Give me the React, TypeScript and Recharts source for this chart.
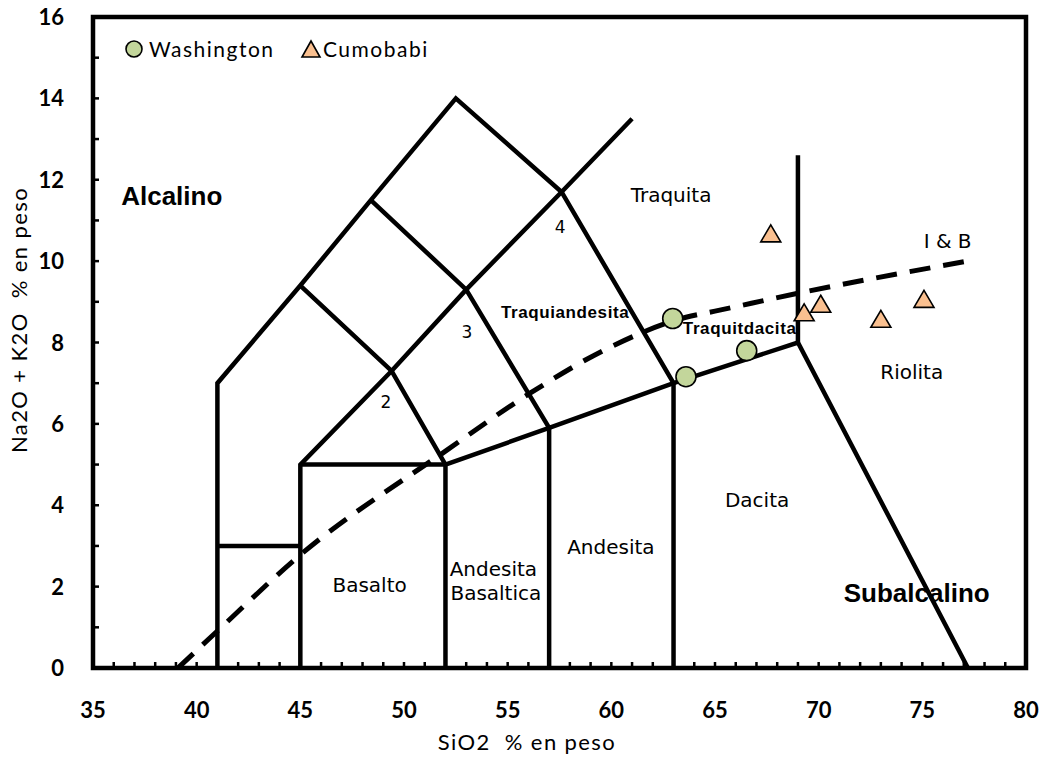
import React from "react";
import { ComposedChart, Line, Scatter, XAxis, YAxis, ReferenceArea } from "recharts";

// TAS field boundaries (SiO2, Na2O+K2O)
const outline = [[41, 0], [41, 7], [45, 9.4], [48.4, 11.5], [52.5, 14], [57.6, 11.7], [63, 7], [63, 0]];
const picroTop = [[41, 3], [45, 3]];
const ridgeLine = [[45, 0], [45, 5], [49.4, 7.3], [53, 9.3], [57.6, 11.7], [61, 13.5]];
const basaltTop = [[45, 5], [52, 5]];
const subalkLine = [[52, 0], [52, 5], [57, 5.9], [63, 7], [69, 8], [77.2, 0]];
const line57 = [[57, 0], [57, 5.9], [53, 9.3], [48.4, 11.5]];
const line52 = [[52, 5], [49.4, 7.3], [45, 9.4]];
const line69 = [[69, 8], [69, 12.6]];
const boundaries = [outline, picroTop, ridgeLine, basaltTop, subalkLine, line57, line52, line69];

// Irvine & Baragar alkaline / subalkaline divide
const ibCurve = [[39.1, 0], [41, 0.91], [45, 2.78], [52, 5.33], [56.1, 6.76], [60, 7.9], [63.6, 8.62], [65, 8.77], [69, 9.21], [77.4, 10.02]];

const washington = [[62.96, 8.59], [63.6, 7.16], [66.53, 7.8]];
const cumobabi = [[67.69, 10.67], [69.3, 8.73], [70.1, 8.94], [73.0, 8.57], [75.08, 9.06]];

const labels = [
  { text: "Alcalino", x: 38.8, y: 11.6, kind: "big" },
  { text: "Subalcalino", x: 74.73, y: 1.85, kind: "big" },
  { text: "Traquiandesita", x: 57.77, y: 8.74, kind: "bold" },
  { text: "Traquitdacita", x: 66.19, y: 8.35, kind: "bold" },
  { text: "Traquita", x: 62.88, y: 11.62, kind: "plain" },
  { text: "Riolita", x: 74.49, y: 7.27, kind: "plain" },
  { text: "I & B", x: 76.22, y: 10.49, kind: "plain" },
  { text: "Dacita", x: 67.03, y: 4.13, kind: "plain" },
  { text: "Andesita", x: 59.98, y: 2.97, kind: "plain" },
  { text: "Andesita", x: 54.31, y: 2.43, kind: "plain" },
  { text: "Basaltica", x: 54.43, y: 1.85, kind: "plain" },
  { text: "Basalto", x: 48.34, y: 2.03, kind: "plain" },
  { text: "2", x: 49.13, y: 6.54, kind: "num" },
  { text: "3", x: 53.04, y: 8.26, kind: "num" },
  { text: "4", x: 57.53, y: 10.84, kind: "num" },
];

const xTicks = Array.from({ length: 46 }, (_, i) => 35 + i);
const yTicks = Array.from({ length: 17 }, (_, i) => i);

const toPts = (arr: number[][]) => arr.map(([x, y]) => ({ x, y }));

const GREEN = "#C3D69B";
const PEACH = "#FAC090";
const TICK_FONT = "Lato, 'Open Sans', sans-serif";
const ARIAL = "'Liberation Sans', Arial, sans-serif";
const DEJAVU = "'DejaVu Sans', sans-serif";

const labelStyles: Record<string, React.CSSProperties> = {
  big: { fontFamily: ARIAL, fontSize: 26, fontWeight: 700 },
  bold: { fontFamily: ARIAL, fontSize: 17, fontWeight: 700, letterSpacing: 0.6 },
  plain: { fontFamily: DEJAVU, fontSize: 20, fontWeight: 400 },
  num: { fontFamily: DEJAVU, fontSize: 17, fontWeight: 400 },
};

const XTick = ({ x, y, payload }: any) =>
  payload.value % 5 === 0 ? (
    <text x={x} y={y + 50} textAnchor="middle" fontFamily={TICK_FONT} fontWeight={700} fontSize={22} fill="#000">
      {payload.value}
    </text>
  ) : (
    <g />
  );

const YTick = ({ x, y, payload }: any) =>
  payload.value % 2 === 0 ? (
    <text x={x - 29} y={y + 8} textAnchor="end" fontFamily={TICK_FONT} fontWeight={700} fontSize={22} fill="#000">
      {payload.value}
    </text>
  ) : (
    <g />
  );

const Circle = ({ cx, cy }: any) => <circle cx={cx} cy={cy} r={10} fill={GREEN} stroke="#000" strokeWidth={1.6} />;
const Tri = ({ cx, cy }: any) => (
  <polygon points={`${cx},${cy - 9} ${cx + 10},${cy + 8} ${cx - 10},${cy + 8}`} fill={PEACH} stroke="#000" strokeWidth={1.6} />
);
const TextMark = ({ cx, cy, payload }: any) => (
  <text x={cx} y={cy} textAnchor="middle" dominantBaseline="central" fill="#000" style={labelStyles[payload.kind]}>
    {payload.text}
  </text>
);

const titleStyle: React.CSSProperties = { whiteSpace: "pre", letterSpacing: 1.4 };

export default function App() {
  return (
    <div style={{ position: "absolute", left: 0, top: 0, width: 1048, height: 759, background: "#fff" }}>
      <ComposedChart width={1048} height={759} margin={{ top: 17, right: 22, bottom: 31, left: 0 }}>
        <XAxis
          dataKey="x"
          type="number"
          domain={[35, 80]}
          ticks={xTicks}
          interval={0}
          height={60}
          axisLine={false}
          tickSize={-6}
          tickMargin={6}
          tickLine={{ stroke: "#000", strokeWidth: 2.5 }}
          tick={<XTick />}
          label={() => (
            <text x={527} y={750} textAnchor="middle" fontFamily={TICK_FONT} fontSize={22} fill="#000" style={titleStyle}>
              {"SiO2  % en peso"}
            </text>
          )}
        />
        <YAxis
          dataKey="y"
          type="number"
          domain={[0, 16]}
          ticks={yTicks}
          interval={0}
          width={93}
          axisLine={false}
          tickSize={-6}
          tickMargin={6}
          tickLine={{ stroke: "#000", strokeWidth: 2.5 }}
          tick={<YTick />}
          label={() => (
            <text
              x={27}
              y={320}
              transform="rotate(-90 27 320)"
              textAnchor="middle"
              fontFamily={TICK_FONT}
              fontSize={22}
              fill="#000"
              style={titleStyle}
            >
              {"Na2O + K2O  % en peso"}
            </text>
          )}
        />
        <ReferenceArea x1={35} x2={80} y1={0} y2={16} fill="none" stroke="#000" strokeWidth={4.5} />
        {boundaries.map((seg, i) => (
          <Line
            key={i}
            data={toPts(seg)}
            dataKey="y"
            type="linear"
            stroke="#000"
            strokeWidth={4.5}
            dot={false}
            activeDot={false}
            legendType="none"
            isAnimationActive={false}
          />
        ))}
        <Line
          data={toPts(ibCurve)}
          dataKey="y"
          type="monotone"
          stroke="#000"
          strokeWidth={5}
          strokeDasharray="21 13"
          dot={false}
          activeDot={false}
          legendType="none"
          isAnimationActive={false}
        />
        <Scatter data={labels} shape={<TextMark />} isAnimationActive={false} />
        <Scatter data={toPts(washington)} shape={<Circle />} isAnimationActive={false} />
        <Scatter data={toPts(cumobabi)} shape={<Tri />} isAnimationActive={false} />
      </ComposedChart>
      <svg style={{ position: "absolute", left: 0, top: 0 }} width={480} height={80}>
        <circle cx={134} cy={49} r={8} fill={GREEN} stroke="#000" strokeWidth={1.6} />
        <text x={149} y={57} fontFamily={TICK_FONT} fontSize={21} fill="#000" style={{ letterSpacing: 1.5 }}>Washington</text>
        <polygon points="311,41 320,57 302,57" fill={PEACH} stroke="#000" strokeWidth={1.6} />
        <text x={323} y={57} fontFamily={TICK_FONT} fontSize={21} fill="#000" style={{ letterSpacing: 1.5 }}>Cumobabi</text>
      </svg>
    </div>
  );
}
